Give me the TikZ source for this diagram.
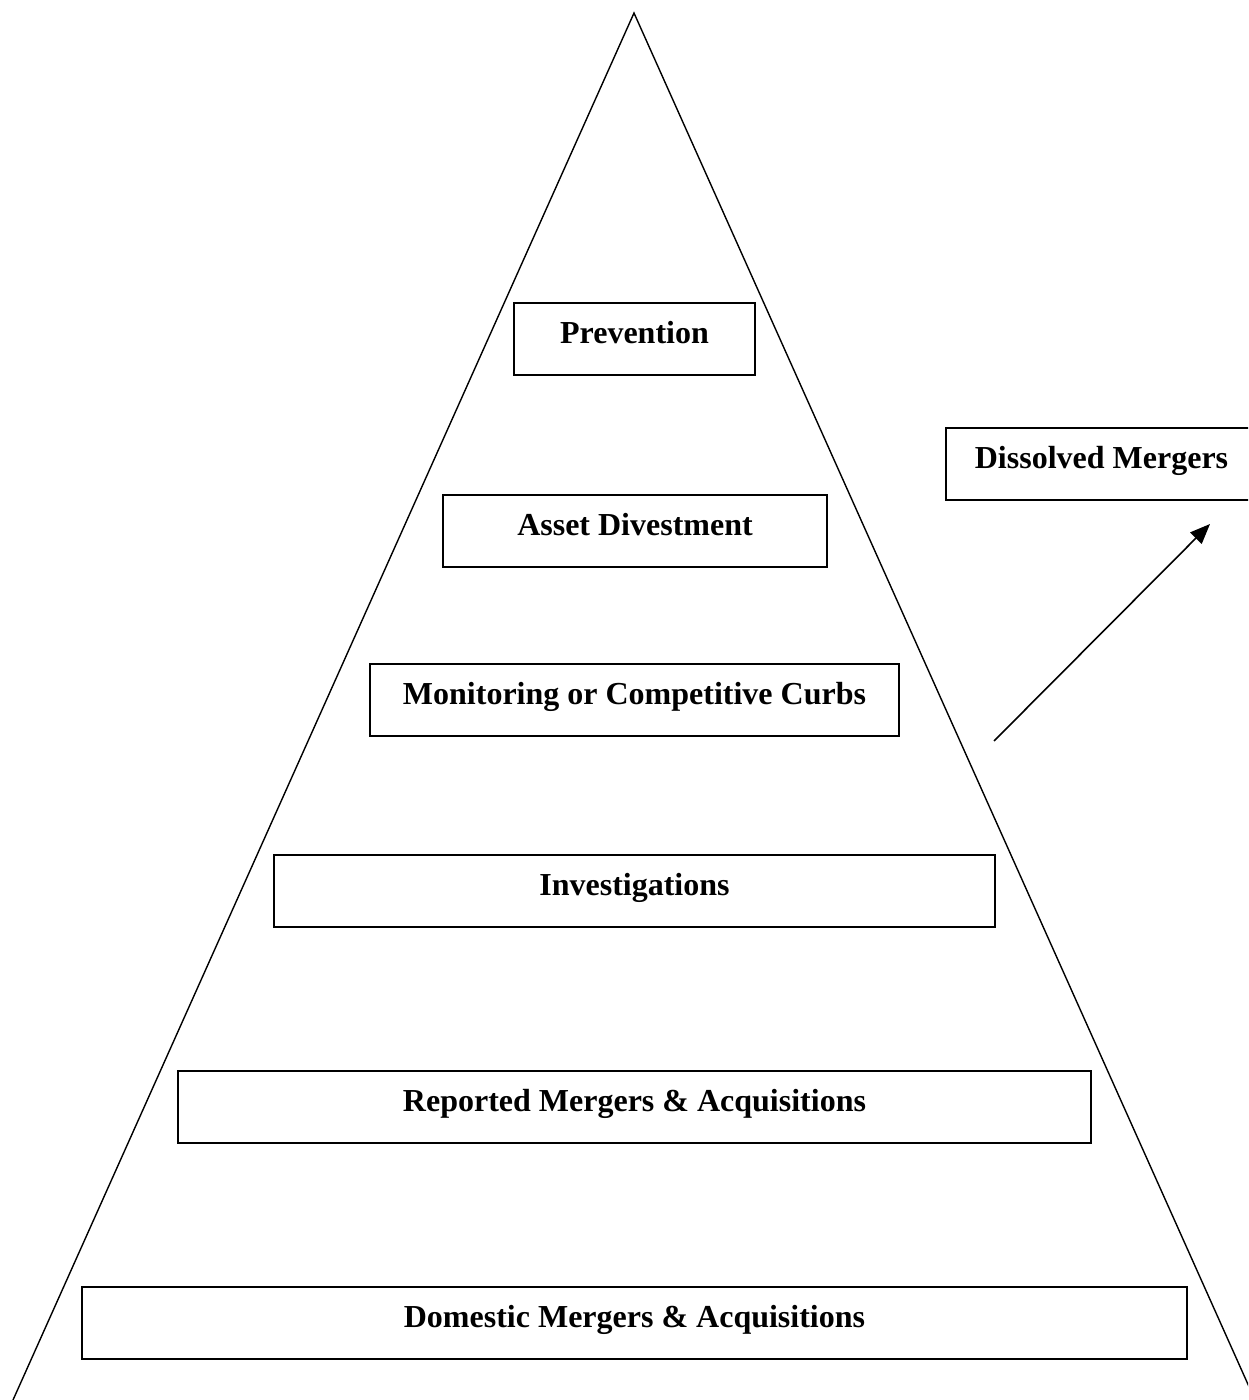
\documentclass[tikz,border=0pt]{standalone}
\usepackage{fontspec}
\setmainfont{Liberation Serif}
\usetikzlibrary{arrows.meta}
\tikzset{
  lvl/.style={draw=black, line width=1.6pt, rectangle, inner xsep=0pt, inner ysep=0pt,
    text height=41pt, text depth=31pt, anchor=north, align=center,
    font=\fontsize{32}{38}\selectfont\bfseries},
  side/.style={line width=1.4pt, line join=miter},
  conn/.style={line width=1.6pt, -{Triangle[length=20pt,width=16pt]}}
}
\begin{document}
\begin{tikzpicture}[x=1pt,y=-1pt]
\useasboundingbox (0,0) rectangle (1248,1400);
\clip (0,0) rectangle (1248,1400);
\coordinate (apex) at (634,13);
\coordinate (bl) at (13,1400);
\coordinate (br) at (1255,1400);
\draw[side] (bl) -- (apex) -- (br);
\node[lvl, minimum width=241pt] (prev) at (634.5,302) {Prevention};
\node[lvl, minimum width=384pt] (asset) at (635,494) {Asset Divestment};
\node[lvl, minimum width=529pt] (mon) at (634.5,663) {Monitoring or Competitive Curbs};
\node[lvl, minimum width=721pt] (inv) at (634.5,854) {Investigations};
\node[lvl, minimum width=913pt] (rep) at (634.5,1070) {Reported Mergers \& Acquisitions};
\node[lvl, minimum width=1105pt] (dom) at (634.5,1286) {Domestic Mergers \& Acquisitions};
\node[lvl, minimum width=311pt] (diss) at (1101.5,427) {Dissolved Mergers};
\coordinate (arrstart) at (994,741);
\coordinate (arrtip) at (1210,524);
\draw[conn] (arrstart) -- (arrtip);
\end{tikzpicture}
\end{document}
